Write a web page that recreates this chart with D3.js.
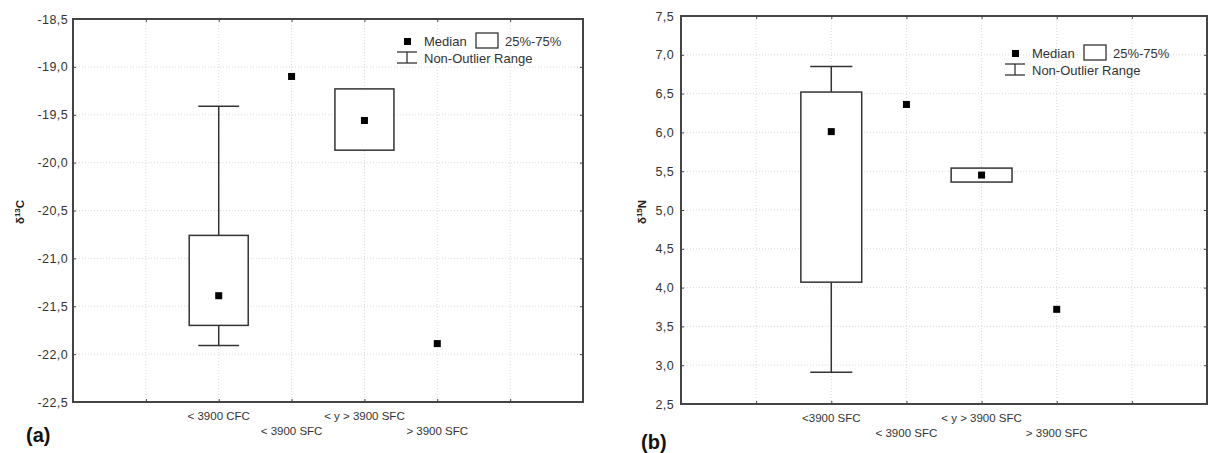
<!DOCTYPE html>
<html>
<head>
<meta charset="utf-8">
<script src="https://cdn.jsdelivr.net/npm/d3@7"></script>
<style>
  body { margin: 0; background: #fff; }
  svg { display: block; font-family: "Liberation Sans", Arial, sans-serif; }
</style>
</head>
<body>
<svg id="canvas"></svg>
<script>
// panel (a) - delta 13C
let categoriesA = ['< 3900 CFC', '< 3900 SFC', '< y > 3900 SFC', '> 3900 SFC']
let medianA = [-21.39, -19.10, -19.56, -21.89]
let q1A = [-21.70, null, -19.87, null]
let q3A = [-20.76, null, -19.23, null]
let whiskerLowA = [-21.91, null, null, null]
let whiskerHighA = [-19.41, null, null, null]
let yTicksA = [-18.5, -19.0, -19.5, -20.0, -20.5, -21.0, -21.5, -22.0, -22.5]

// panel (b) - delta 15N
let categoriesB = ['<3900 SFC', '< 3900 SFC', '< y > 3900 SFC', '> 3900 SFC']
let medianB = [6.01, 6.36, 5.45, 3.72]
let q1B = [4.07, null, 5.36, null]
let q3B = [6.52, null, 5.54, null]
let whiskerLowB = [2.91, null, null, null]
let whiskerHighB = [6.85, null, null, null]
let yTicksB = [7.5, 7.0, 6.5, 6.0, 5.5, 5.0, 4.5, 4.0, 3.5, 3.0, 2.5]

let width = 1209
let height = 453

let fmt = d3.formatLocale({decimal: ',', thousands: '.', grouping: [3], currency: ['', ''], minus: '-'}).format('.1f')

let svg = d3.select('#canvas')
            .attr('width', width)
            .attr('height', height)

let drawPanel = (p) => {
    let x = d3.scaleLinear().domain([0, 7]).range([p.left, p.right])
    let y = d3.scaleLinear().domain(p.yDomain).range([p.bottom, p.top])
    let step = x(1) - x(0)
    let g = svg.append('g')

    // grid
    g.selectAll('.hgrid').data(p.yTicks).enter().append('line')
        .attr('x1', p.left).attr('x2', p.right)
        .attr('y1', d => y(d)).attr('y2', d => y(d))
        .attr('stroke', '#dadada').attr('stroke-dasharray', '1,2')
    g.selectAll('.vgrid').data([1, 2, 3, 4, 5, 6]).enter().append('line')
        .attr('y1', p.top).attr('y2', p.bottom)
        .attr('x1', d => x(d)).attr('x2', d => x(d))
        .attr('stroke', '#dadada').attr('stroke-dasharray', '1,2')

    // axes
    let yAxis = g.append('g')
        .attr('transform', `translate(${p.left},0)`)
        .call(d3.axisLeft(y).tickValues(p.yTicks).tickFormat(fmt).tickSize(-3).tickPadding(p.tickPad))
    yAxis.select('.domain').remove()
    yAxis.selectAll('text').attr('font-size', 12.5).attr('fill', '#333').attr('letter-spacing', 0.4)
    yAxis.selectAll('line').attr('stroke', '#444')

    let rAxis = g.append('g')
        .attr('transform', `translate(${p.right},0)`)
        .call(d3.axisRight(y).tickValues(p.yTicks).tickFormat('').tickSize(-3))
    rAxis.select('.domain').remove()
    rAxis.selectAll('line').attr('stroke', '#444')

    let xAxis = g.append('g')
        .attr('transform', `translate(0,${p.bottom})`)
        .call(d3.axisBottom(x).tickValues([1, 2, 3, 4, 5, 6]).tickFormat('').tickSize(-3))
    xAxis.select('.domain').remove()
    xAxis.selectAll('line').attr('stroke', '#444')
    let tAxis = g.append('g')
        .attr('transform', `translate(0,${p.top})`)
        .call(d3.axisTop(x).tickValues([1, 2, 3, 4, 5, 6]).tickFormat('').tickSize(-3))
    tAxis.select('.domain').remove()
    tAxis.selectAll('line').attr('stroke', '#444')

    // category labels, staggered
    g.selectAll('.cat').data(p.categories).enter().append('text')
        .attr('x', (d, i) => x(i + 2))
        .attr('y', (d, i) => p.bottom + (i % 2 === 0 ? 18 : 33))
        .attr('text-anchor', 'middle')
        .attr('font-size', 11.5)
        .attr('fill', '#333')
        .text(d => d)

    // frame
    g.append('rect')
        .attr('x', p.left).attr('y', p.top)
        .attr('width', p.right - p.left).attr('height', p.bottom - p.top)
        .attr('fill', 'none').attr('stroke', '#444').attr('stroke-width', 2)

    // boxes and whiskers
    let boxW = step * 0.81
    let capW = step * 0.56
    p.median.forEach((m, i) => {
        let cx = x(i + 2)
        if (p.wLow[i] != null) {
            g.append('line').attr('x1', cx).attr('x2', cx)
                .attr('y1', y(p.wLow[i])).attr('y2', y(p.q1[i]))
                .attr('stroke', '#333').attr('stroke-width', 1.5)
            g.append('line').attr('x1', cx - capW / 2).attr('x2', cx + capW / 2)
                .attr('y1', y(p.wLow[i])).attr('y2', y(p.wLow[i]))
                .attr('stroke', '#333').attr('stroke-width', 1.5)
        }
        if (p.wHigh[i] != null) {
            g.append('line').attr('x1', cx).attr('x2', cx)
                .attr('y1', y(p.wHigh[i])).attr('y2', y(p.q3[i]))
                .attr('stroke', '#333').attr('stroke-width', 1.5)
            g.append('line').attr('x1', cx - capW / 2).attr('x2', cx + capW / 2)
                .attr('y1', y(p.wHigh[i])).attr('y2', y(p.wHigh[i]))
                .attr('stroke', '#333').attr('stroke-width', 1.5)
        }
        if (p.q1[i] != null) {
            g.append('rect')
                .attr('x', cx - boxW / 2).attr('width', boxW)
                .attr('y', y(p.q3[i])).attr('height', y(p.q1[i]) - y(p.q3[i]))
                .attr('fill', '#fff').attr('stroke', '#333').attr('stroke-width', 1.5)
        }
        g.append('rect')
            .attr('x', cx - 3.5).attr('y', y(m) - 3.5)
            .attr('width', 7).attr('height', 7)
            .attr('fill', '#000')
    })

    // legend
    let lx = p.legendX, ly = p.legendY
    let leg = g.append('g').attr('transform', `translate(${lx},${ly})`)
    leg.append('rect').attr('x', -3).attr('y', -3).attr('width', 7).attr('height', 7).attr('fill', '#000')
    leg.append('text').attr('x', 17).attr('y', 5).attr('font-size', 13).attr('fill', '#333').text('Median')
    leg.append('rect').attr('x', 69).attr('y', -8).attr('width', 22).attr('height', 15)
        .attr('fill', '#fff').attr('stroke', '#333').attr('stroke-width', 1.3)
    leg.append('text').attr('x', 98).attr('y', 5).attr('font-size', 13).attr('fill', '#333').text('25%-75%')
    leg.append('line').attr('x1', -10).attr('x2', 10).attr('y1', 11).attr('y2', 11).attr('stroke', '#333').attr('stroke-width', 1.3)
    leg.append('line').attr('x1', -10).attr('x2', 10).attr('y1', 22).attr('y2', 22).attr('stroke', '#333').attr('stroke-width', 1.3)
    leg.append('line').attr('x1', 0).attr('x2', 0).attr('y1', 11).attr('y2', 22).attr('stroke', '#333').attr('stroke-width', 1.3)
    leg.append('text').attr('x', 17).attr('y', 22).attr('font-size', 13).attr('fill', '#333').text('Non-Outlier Range')

    // y title
    let t = g.append('text')
        .attr('transform', `translate(${p.titleX},${p.titleY}) rotate(-90)`)
        .attr('text-anchor', 'middle')
        .attr('font-size', 11.5)
        .attr('font-weight', 'bold')
        .attr('fill', '#222')
    t.append('tspan').text('δ')
    t.append('tspan').attr('font-size', 8).attr('dy', -4).text(p.iso)
    t.append('tspan').attr('dy', 4).text(p.elem)

    // panel tag
    g.append('text')
        .attr('x', p.tagX).attr('y', p.tagY)
        .attr('font-size', 20)
        .attr('font-weight', 'bold')
        .attr('fill', '#111')
        .text(p.tag)
}

drawPanel({
    left: 73, right: 583, top: 19, bottom: 402,
    yDomain: [-22.5, -18.5], yTicks: yTicksA, tickPad: 5,
    categories: categoriesA, median: medianA, q1: q1A, q3: q3A,
    wLow: whiskerLowA, wHigh: whiskerHighA,
    legendX: 407, legendY: 41,
    titleX: 24, titleY: 212, iso: '13', elem: 'C',
    tag: '(a)', tagX: 26, tagY: 442
})

drawPanel({
    left: 681, right: 1207, top: 16, bottom: 404,
    yDomain: [2.5, 7.5], yTicks: yTicksB, tickPad: 7,
    categories: categoriesB, median: medianB, q1: q1B, q3: q3B,
    wLow: whiskerLowB, wHigh: whiskerHighB,
    legendX: 1015, legendY: 53,
    titleX: 646, titleY: 212, iso: '15', elem: 'N',
    tag: '(b)', tagX: 641, tagY: 449
})
</script>
</body>
</html>
